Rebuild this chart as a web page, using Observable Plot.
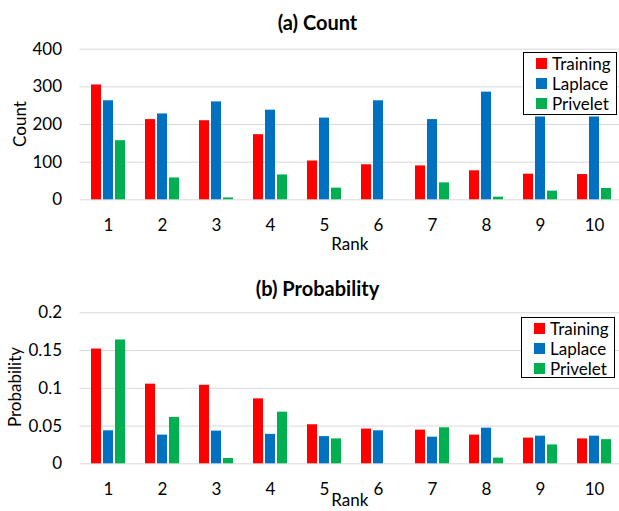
<!DOCTYPE html>
<html>
<head>
<meta charset="utf-8">
<script src="https://cdn.jsdelivr.net/npm/d3@7"></script>
<script src="https://cdn.jsdelivr.net/npm/@observablehq/plot@0.6"></script>
<style>
  html, body { margin: 0; padding: 0; background: #fff; }
  #root { position: relative; width: 619px; height: 511px; overflow: hidden; font-family: Lato, "Open Sans", sans-serif; color: #000; }
  .panel { position: absolute; left: 0; width: 619px; }
  .title { position: absolute; left: 0; width: 635px; text-align: center; font-weight: bold; font-size: 20px; line-height: 20px; }
  .ylab { position: absolute; font-size: 17px; line-height: 17px; white-space: nowrap; transform: translate(-50%, -50%) rotate(-90deg); }
  .legend { position: absolute; border: 1px solid #000; background: #fff; box-sizing: border-box; padding: 0 0 0 12px; }
  .legend .row { display: flex; align-items: center; height: 20.3px; font-size: 17px; line-height: 17px; }
  .legend .sw { width: 11px; height: 11px; margin-right: 5px; }
</style>
</head>
<body>
<div id="root"></div>
<script>
// ---- data ----
const ranks = [1, 2, 3, 4, 5, 6, 7, 8, 9, 10];
const seriesNames = ["Training", "Laplace", "Privelet"];
const seriesColors = ["#FF0000", "#0070C0", "#00B050"];

const countTraining = [305, 213, 210, 173, 103, 93, 90, 77, 68, 67];
const countLaplace  = [263, 228, 260, 238, 217, 263, 213, 286, 220, 220];
const countPrivelet = [157, 58, 5, 66, 31, 0, 45, 7, 23, 30];

const probTraining = [0.152, 0.1055, 0.104, 0.086, 0.0517, 0.046, 0.0446, 0.038, 0.034, 0.033];
const probLaplace  = [0.0437, 0.038, 0.0433, 0.039, 0.036, 0.0437, 0.0353, 0.0472, 0.0366, 0.0366];
const probPrivelet = [0.164, 0.0614, 0.007, 0.0684, 0.033, 0, 0.0477, 0.0075, 0.025, 0.032];

const countTicks = [0, 100, 200, 300, 400];
const probTicks = [0, 0.05, 0.1, 0.15, 0.2];

// ---- drawing ----
const root = document.getElementById("root");

function makeChart({values, ticks, height, marginTop, marginBottom, tickFormat, xLabelOffset}) {
  const marks = [Plot.ruleY(ticks, {stroke: "#D9D9D9", strokeWidth: 1})];
  values.forEach((vals, i) => {
    const data = ranks.map((r, j) => ({rank: r, value: vals[j]}));
    marks.push(Plot.barY(data, {x: "rank", y: "value", fill: seriesColors[i], dx: (i - 1) * 12}));
  });
  return Plot.plot({
    width: 619,
    height,
    marginLeft: 79.5,
    marginRight: 0,
    marginTop,
    marginBottom,
    style: {fontFamily: "Lato, 'Open Sans', sans-serif", fontSize: "17px", color: "#000", background: "transparent", overflow: "visible"},
    x: {type: "band", domain: ranks, range: [79.5, 623], paddingInner: 0.823, paddingOuter: 0.4115,
        tickSize: 0, tickPadding: 19, label: "Rank", labelAnchor: "center", labelOffset: xLabelOffset},
    y: {domain: [ticks[0], ticks[ticks.length - 1]], ticks, tickSize: 0, tickPadding: 18,
        tickFormat, label: null},
    marks
  });
}

function addLegend(left, top, width, height) {
  const lg = document.createElement("div");
  lg.className = "legend";
  Object.assign(lg.style, {left: left + "px", top: top + "px", width: width + "px", height: height + "px"});
  seriesNames.forEach((name, i) => {
    const row = document.createElement("div");
    row.className = "row";
    const sw = document.createElement("div");
    sw.className = "sw";
    sw.style.background = seriesColors[i];
    row.appendChild(sw);
    row.appendChild(document.createTextNode(name));
    lg.appendChild(row);
  });
  root.appendChild(lg);
}

function addTitle(text, top) {
  const t = document.createElement("div");
  t.className = "title";
  t.style.top = top + "px";
  t.textContent = text;
  root.appendChild(t);
}

function addYLabel(text, cx, cy) {
  const t = document.createElement("div");
  t.className = "ylab";
  t.style.left = cx + "px";
  t.style.top = cy + "px";
  t.textContent = text;
  root.appendChild(t);
}

// top panel
const p1 = document.createElement("div");
p1.className = "panel"; p1.style.top = "0px";
p1.appendChild(makeChart({
  values: [countTraining, countLaplace, countPrivelet],
  ticks: countTicks, height: 255,
  marginTop: 48.7, marginBottom: 55.7, xLabelOffset: 50,
  tickFormat: d => String(d)
}));
root.appendChild(p1);

// bottom panel
const p2 = document.createElement("div");
p2.className = "panel"; p2.style.top = "255px";
p2.appendChild(makeChart({
  values: [probTraining, probLaplace, probPrivelet],
  ticks: probTicks, height: 256,
  marginTop: 57.3, marginBottom: 47.7, xLabelOffset: 42,
  tickFormat: d => String(d)
}));
root.appendChild(p2);

addTitle("(a) Count", 12);
addTitle("(b) Probability", 278);
addYLabel("Count", 18.5, 124);
addYLabel("Probability", 14, 387);
addLegend(523, 52, 94, 63);
addLegend(521, 317, 94, 61);
</script>
</body>
</html>
